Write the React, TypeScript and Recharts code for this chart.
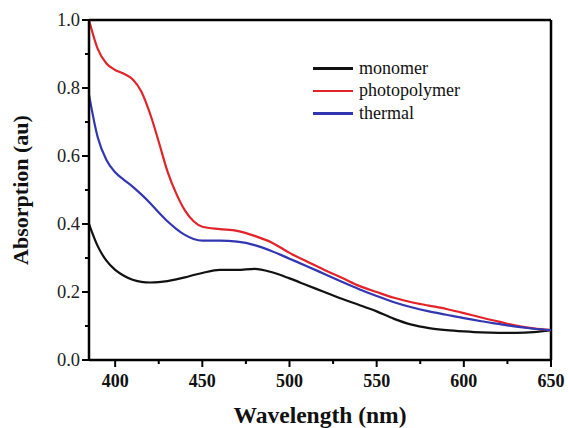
import React from 'react';
import { LineChart, Line, XAxis, YAxis, ReferenceLine } from 'recharts';

const wavelengths = [
  385, 390, 395, 400, 405, 410, 415, 420, 425, 430, 435, 440, 445, 450, 460, 470, 480, 490, 500,
  510, 520, 530, 540, 550, 560, 570, 580, 590, 600, 610, 620, 630, 640, 650,
];
const monomer = [
  0.4, 0.335, 0.292, 0.265, 0.248, 0.236, 0.23, 0.228, 0.229, 0.232, 0.237, 0.243, 0.25, 0.256,
  0.265, 0.265, 0.268, 0.258, 0.24, 0.22, 0.2, 0.18, 0.162, 0.143, 0.121, 0.104, 0.094, 0.088, 0.084,
  0.081, 0.08, 0.08, 0.082, 0.088,
];
const photopolymer = [
  1.0, 0.915, 0.872, 0.853, 0.842, 0.826, 0.79, 0.725, 0.642, 0.555, 0.49, 0.44, 0.408, 0.392, 0.385,
  0.38, 0.365, 0.345, 0.315, 0.29, 0.265, 0.242, 0.218, 0.2, 0.183, 0.17, 0.16, 0.15, 0.138, 0.125,
  0.113, 0.101, 0.093, 0.088,
];
const thermal = [
  0.78, 0.655, 0.588, 0.552, 0.53, 0.51, 0.487, 0.462, 0.434, 0.408, 0.386, 0.368, 0.356, 0.351,
  0.351, 0.348, 0.338, 0.32, 0.298, 0.276, 0.253, 0.23, 0.208, 0.188, 0.17, 0.155, 0.143, 0.133,
  0.123, 0.114, 0.106, 0.098, 0.092, 0.088,
];

const xTicks = [400, 425, 450, 475, 500, 525, 550, 575, 600, 625, 650];
const yTicks = [0, 0.1, 0.2, 0.3, 0.4, 0.5, 0.6, 0.7, 0.8, 0.9, 1.0];

const series = [
  { key: 'monomer', name: 'monomer', color: '#111111' },
  { key: 'photopolymer', name: 'photopolymer', color: '#e0242a' },
  { key: 'thermal', name: 'thermal', color: '#3236b0' },
];

const data = wavelengths.map((w, i) => ({
  w,
  monomer: monomer[i],
  photopolymer: photopolymer[i],
  thermal: thermal[i],
}));

const serif = '"Liberation Serif", "Times New Roman", serif';

function XTick({ x, y, payload }: any) {
  const major = payload.value % 50 === 0;
  return (
    <g>
      <line x1={x} x2={x} y1={y} y2={y + (major ? 7 : 4)} stroke="#000" strokeWidth={2} />
      {major && (
        <text x={x} y={y + 27} textAnchor="middle" fontFamily={serif} fontWeight="bold" fontSize={18} fill="#111">
          {payload.value}
        </text>
      )}
    </g>
  );
}

function YTick({ x, y, payload }: any) {
  const major = Math.round(payload.value * 10) % 2 === 0;
  return (
    <g>
      <line x1={x} x2={x - (major ? 7 : 4)} y1={y} y2={y} stroke="#000" strokeWidth={2} />
      {major && (
        <text x={x - 9} y={y + 6} textAnchor="end" fontFamily={serif} fontSize={18.5} fill="#222">
          {payload.value.toFixed(1)}
        </text>
      )}
    </g>
  );
}

// legend sits inside the plot, drawn as an overlay so it doesn't eat chart space
function LegendBox() {
  return (
    <div style={{ position: 'absolute', left: 313, top: 57, fontFamily: serif, fontSize: 18, color: '#111' }}>
      {series.map((s) => (
        <div key={s.key} style={{ display: 'flex', alignItems: 'center', height: 22.5 }}>
          <div style={{ width: 40, height: 2.5, background: s.color, marginRight: 6 }} />
          <span>{s.name}</span>
        </div>
      ))}
    </div>
  );
}

export default function App() {
  return (
    <div style={{ position: 'absolute', left: 0, top: 0, width: 569, height: 428, background: '#fff' }}>
      <LineChart width={569} height={428} data={data} margin={{ top: 20, right: 18, left: 0, bottom: 0 }}>
        <XAxis
          dataKey="w"
          type="number"
          domain={[385, 650]}
          ticks={xTicks}
          height={68}
          tickSize={0}
          tickMargin={0}
          tickLine={false}
          tick={<XTick />}
          axisLine={{ stroke: '#000', strokeWidth: 2.5 }}
          interval={0}
          label={{
            value: 'Wavelength (nm)',
            position: 'insideBottom',
            offset: 5,
            style: { fontFamily: serif, fontWeight: 'bold', fontSize: 23.5, fill: '#111' },
          }}
        />
        <YAxis
          type="number"
          domain={[0, 1]}
          ticks={yTicks}
          width={89}
          tickSize={0}
          tickMargin={0}
          tickLine={false}
          tick={<YTick />}
          axisLine={{ stroke: '#000', strokeWidth: 2.5 }}
          interval={0}
          label={{
            value: 'Absorption (au)',
            angle: -90,
            position: 'insideLeft',
            offset: 20,
            style: { textAnchor: 'middle', fontFamily: serif, fontWeight: 'bold', fontSize: 22, fill: '#111' },
          }}
        />
        {/* frame: top and right edges */}
        <ReferenceLine y={1} stroke="#000" strokeWidth={2.5} />
        <ReferenceLine x={650} stroke="#000" strokeWidth={2.5} />
        {series.map((s) => (
          <Line
            key={s.key}
            type="monotone"
            dataKey={s.key}
            name={s.name}
            stroke={s.color}
            strokeWidth={2.2}
            dot={false}
            isAnimationActive={false}
          />
        ))}
      </LineChart>
      <LegendBox />
    </div>
  );
}
